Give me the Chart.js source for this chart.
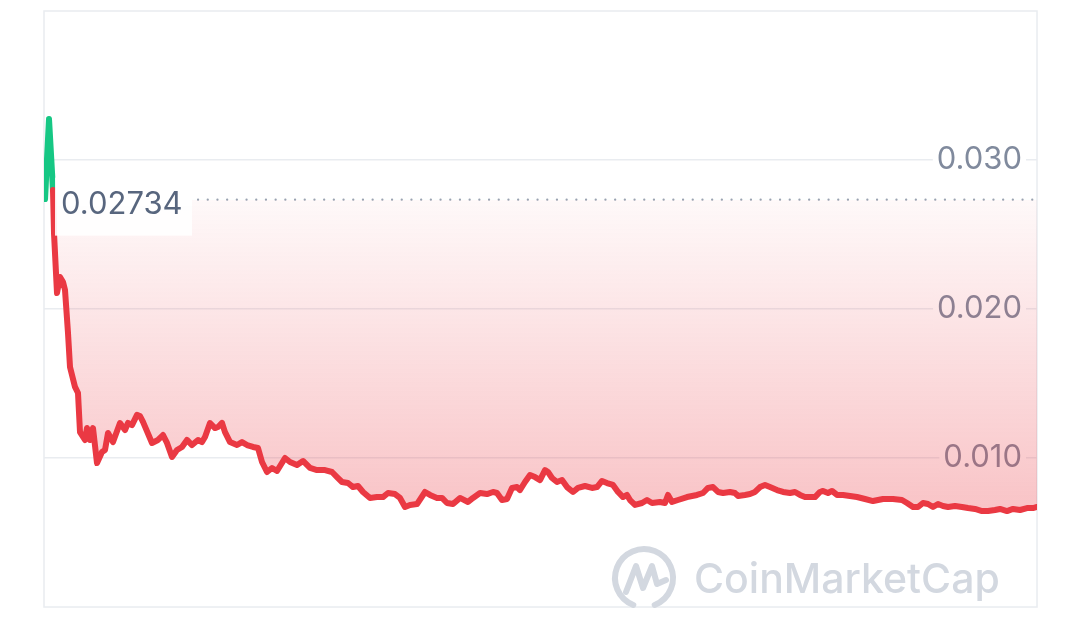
<!DOCTYPE html>
<html>
<head>
<meta charset="utf-8">
<script src="https://cdn.jsdelivr.net/npm/chart.js@4.4.1/dist/chart.umd.min.js"></script>
<style>
  html, body { margin: 0; padding: 0; background: #ffffff; }
  #wrap { width: 1080px; height: 621px; position: relative; }
</style>
</head>
<body>
<div id="wrap"><canvas id="c" width="1080" height="621"></canvas></div>
<script>
// ---- data ----
const times = [
  0, 4, 7, 8, 9, 12, 15, 18, 20, 23, 25, 30, 33, 35, 40, 42, 45, 48, 52, 57,
  60, 63, 68, 75, 80, 83, 87, 92, 95, 98, 107, 113, 118, 122, 127, 132, 137, 142, 147, 153,
  157, 160, 165, 170, 173, 177, 180, 185, 192, 197, 202, 208, 213, 217, 222, 227, 232, 240, 245, 252,
  258, 265, 272, 280, 287, 292, 297, 303, 308, 313, 318, 325, 332, 338, 343, 350, 355, 360, 365, 372,
  380, 385, 392, 397, 402, 408, 415, 423, 428, 435, 442, 448, 452, 457, 462, 467, 472, 475, 480, 485,
  490, 495, 500, 503, 507, 512, 517, 522, 528, 533, 540, 547, 552, 557, 562, 568, 573, 578, 582, 585,
  590, 597, 602, 607, 615, 620, 623, 627, 633, 642, 652, 658, 663, 668, 673, 678, 685, 690, 693, 700,
  705, 710, 715, 720, 725, 732, 738, 745, 750, 755, 760, 765, 770, 775, 778, 783, 787, 792, 798, 805,
  812, 820, 828, 838, 848, 857, 862, 868, 873, 878, 883, 888, 893, 898, 903, 910, 917, 923, 930, 937,
  943, 950, 955, 962, 968, 975, 982, 988, 992
];
const prices = [
  0.02738, 0.03275, 0.02919, 0.02799, 0.02510, 0.02107, 0.02215, 0.02181, 0.02128, 0.01839,
  0.01611, 0.01477, 0.01436, 0.01174, 0.01121, 0.01201, 0.01121, 0.01201, 0.00966, 0.01040,
  0.01054, 0.01168, 0.01107, 0.01235, 0.01188, 0.01235, 0.01221, 0.01289, 0.01282, 0.01242,
  0.01101, 0.01121, 0.01154, 0.01101, 0.01007, 0.01054, 0.01074, 0.01121, 0.01087, 0.01121,
  0.01107, 0.01141, 0.01235, 0.01201, 0.01208, 0.01235, 0.01174, 0.01107, 0.01087, 0.01107,
  0.01087, 0.01074, 0.01067, 0.00973, 0.00906, 0.00933, 0.00913, 0.01000, 0.00973, 0.00953,
  0.00980, 0.00933, 0.00919, 0.00919, 0.00906, 0.00872, 0.00839, 0.00832, 0.00805, 0.00812,
  0.00772, 0.00732, 0.00738, 0.00738, 0.00765, 0.00758, 0.00732, 0.00671, 0.00685, 0.00691,
  0.00772, 0.00752, 0.00732, 0.00732, 0.00698, 0.00691, 0.00732, 0.00705, 0.00732, 0.00765,
  0.00758, 0.00772, 0.00765, 0.00718, 0.00725, 0.00799, 0.00805, 0.00785, 0.00839, 0.00886,
  0.00872, 0.00852, 0.00919, 0.00906, 0.00866, 0.00839, 0.00852, 0.00805, 0.00772, 0.00799,
  0.00812, 0.00799, 0.00805, 0.00846, 0.00832, 0.00819, 0.00772, 0.00738, 0.00752, 0.00718,
  0.00685, 0.00698, 0.00718, 0.00698, 0.00705, 0.00698, 0.00752, 0.00705, 0.00718, 0.00738,
  0.00752, 0.00765, 0.00799, 0.00805, 0.00772, 0.00765, 0.00772, 0.00765, 0.00745, 0.00752,
  0.00758, 0.00772, 0.00805, 0.00819, 0.00805, 0.00785, 0.00772, 0.00765, 0.00772, 0.00752,
  0.00738, 0.00738, 0.00738, 0.00772, 0.00779, 0.00765, 0.00779, 0.00752, 0.00752, 0.00745,
  0.00738, 0.00725, 0.00711, 0.00725, 0.00725, 0.00718, 0.00698, 0.00671, 0.00671, 0.00698,
  0.00691, 0.00671, 0.00691, 0.00678, 0.00671, 0.00678, 0.00671, 0.00664, 0.00658, 0.00644,
  0.00644, 0.00651, 0.00658, 0.00644, 0.00658, 0.00651, 0.00664, 0.00664, 0.00671
];
const basePrice = 0.02734;
const baseLabel = '0.02734';
const yTicks = [0.010, 0.020, 0.030];
const yMin = 0, yMax = 0.040;
const xMin = -1, xMax = 992;
const watermark = 'CoinMarketCap';

// ---- styles ----
const RED = '#ea3943';
const GREEN = '#16c784';
const GRID = '#e9ecf0';
const TICK_COLOR = '#808a9d';
const FONT = 'Inter, "Noto Sans", "DejaVu Sans", sans-serif';

const points = times.map((t, i) => ({ x: t, y: prices[i] }));

const frame = {
  id: 'frame',
  beforeDraw(chart) {
    const { ctx, chartArea: a } = chart;
    ctx.save();
    ctx.strokeStyle = GRID;
    ctx.lineWidth = 1.5;
    ctx.strokeRect(a.left, a.top, a.right - a.left, a.bottom - a.top);
    // watermark
    const cx = 644, cy = 578;
    ctx.strokeStyle = '#d3d8e0';
    ctx.lineWidth = 6;
    ctx.lineCap = 'round';
    ctx.lineJoin = 'round';
    ctx.beginPath();
    ctx.arc(cx, cy, 29, 0.62 * Math.PI, 0.42 * Math.PI + 2 * Math.PI * 0.98, false);
    ctx.stroke();
    ctx.beginPath();
    ctx.moveTo(cx - 18, cy + 14);
    ctx.lineTo(cx - 8, cy - 12);
    ctx.lineTo(cx - 1, cy + 10);
    ctx.lineTo(cx + 8, cy - 12);
    ctx.lineTo(cx + 13, cy + 6);
    ctx.lineTo(cx + 22, cy + 2);
    ctx.stroke();
    ctx.fillStyle = '#d3d8e0';
    ctx.font = '500 41px ' + FONT;
    ctx.textAlign = 'left';
    ctx.textBaseline = 'middle';
    ctx.fillText(watermark, 694, 581);
    ctx.restore();
  }
};

const baseMarker = {
  id: 'baseMarker',
  afterDatasetsDraw(chart) {
    const { ctx, chartArea: a, scales } = chart;
    const y = scales.y.getPixelForValue(basePrice);
    ctx.save();
    ctx.fillStyle = 'rgba(255,255,255,0.9)';
    ctx.fillRect(a.left + 11, y - 22, 137, 58);
    ctx.strokeStyle = '#9aa2b1';
    ctx.lineWidth = 2.2;
    ctx.lineCap = 'round';
    ctx.setLineDash([0.1, 9.6]);
    ctx.beginPath();
    ctx.moveTo(a.left + 154, y);
    ctx.lineTo(a.right, y);
    ctx.stroke();
    ctx.setLineDash([]);
    ctx.fillStyle = '#58667e';
    ctx.font = '31px ' + FONT;
    ctx.textAlign = 'left';
    ctx.textBaseline = 'middle';
    ctx.fillText(baseLabel, a.left + 17, y + 5);
    ctx.restore();
  }
};

const chart = new Chart(document.getElementById('c'), {
  type: 'line',
  data: {
    datasets: [{
      data: points,
      borderColor: RED,
      borderWidth: 6,
      borderJoinStyle: 'round',
      borderCapStyle: 'round',
      pointRadius: 0,
      tension: 0,
      fill: { value: basePrice, above: 'rgba(22,199,132,0.15)', below: 'rgba(234,57,67,0.15)' },
      segment: {
        borderColor: c => (c.p1.parsed.y >= basePrice && c.p0.parsed.y >= basePrice) ? GREEN : RED
      }
    }]
  },
  options: {
    responsive: false,
    animation: false,
    events: [],
    layout: { padding: { left: 44, top: 11, bottom: 14, right: 43 } },
    plugins: { legend: { display: false }, tooltip: { enabled: false } },
    scales: {
      x: { type: 'linear', min: xMin, max: xMax, display: false },
      y: {
        position: 'right',
        min: yMin, max: yMax,
        afterBuildTicks: axis => { axis.ticks = yTicks.map(v => ({ value: v })); },
        afterFit: axis => { axis.width = 0; axis.paddingTop = 0; axis.paddingBottom = 0; },
        grid: { color: GRID, lineWidth: 1.5, drawTicks: false },
        border: { display: false },
        ticks: {
          mirror: true,
          padding: -15,
          color: TICK_COLOR,
          font: { family: FONT, size: 31 },
          showLabelBackdrop: true,
          backdropColor: '#ffffff',
          backdropPadding: { x: 4, y: 2 },
          callback: v => Number(v).toFixed(3)
        }
      }
    }
  },
  plugins: [frame, baseMarker]
});

// gradient fill between the line and the base price, built from the scale
(function () {
  const ctx = chart.ctx;
  const yTop = chart.scales.y.getPixelForValue(basePrice);
  const yBot = chart.scales.y.getPixelForValue(Math.min(...prices));
  const red = ctx.createLinearGradient(0, yTop, 0, yBot);
  red.addColorStop(0, 'rgba(234,57,67,0.03)');
  red.addColorStop(1, 'rgba(234,57,67,0.30)');
  const green = ctx.createLinearGradient(0, chart.scales.y.getPixelForValue(Math.max(...prices)), 0, yTop);
  green.addColorStop(0, 'rgba(22,199,132,0.35)');
  green.addColorStop(1, 'rgba(22,199,132,0.05)');
  chart.data.datasets[0].fill = { value: basePrice, above: green, below: red };
  chart.update('none');
})();
</script>
</body>
</html>
